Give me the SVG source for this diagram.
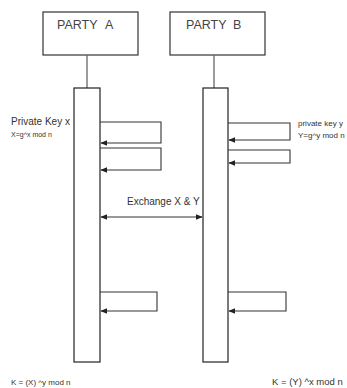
<svg xmlns="http://www.w3.org/2000/svg" width="347" height="388" viewBox="0 0 347 388">
  <defs>
    <marker id="ah" viewBox="0 0 10 10" refX="9" refY="5" markerWidth="7" markerHeight="7" markerUnits="userSpaceOnUse" orient="auto-start-reverse">
      <path d="M0,1 L10,5 L0,9 z" fill="#222"/>
    </marker>
    <style>
      .box { fill: #fff; stroke: #333; stroke-width: 1.2; }
      .life { fill: #fff; stroke: #222; stroke-width: 1.2; }
      .stem { stroke: #666; stroke-width: 1.3; fill: none; }
      .msg { fill: none; stroke: #333; stroke-width: 1.1; }
      .arr { marker-end: url(#ah); }
      .lbl { font-family: "Liberation Sans", Arial, sans-serif; fill: #333; }
      .title { font-size: 12.5px; fill: #444; }
    </style>
  </defs>
  <rect width="347" height="388" fill="#fff"/>

  <g id="party-a">
    <rect class="box" x="43" y="12" width="95" height="43"/>
    <text class="lbl title" x="57" y="29">PARTY<tspan x="105">A</tspan></text>
    <line class="stem" x1="87" y1="55" x2="87" y2="88"/>
    <rect class="life" x="74" y="88" width="26" height="274"/>
  </g>

  <g id="party-b">
    <rect class="box" x="170" y="12" width="95" height="43"/>
    <text class="lbl title" x="186" y="29">PARTY<tspan x="233">B</tspan></text>
    <line class="stem" x1="214" y1="55" x2="214" y2="88"/>
    <rect class="life" x="203" y="88" width="25" height="274"/>
  </g>

  <g id="connectors">
    <!-- Party A self messages -->
    <path class="msg arr" d="M100,122 H161 V143 H101"/>
    <path class="msg arr" d="M100,148 H161 V170 H101"/>
    <path class="msg arr" d="M100,292 H157 V311 H101"/>
    <!-- Party B self messages -->
    <path class="msg arr" d="M228,123 H290 V140 H229"/>
    <path class="msg arr" d="M228,150 H290 V163 H229"/>
    <path class="msg arr" d="M228,292 H286 V311 H229"/>
    <!-- key exchange -->
    <line class="msg" x1="101" y1="217" x2="202" y2="217" marker-start="url(#ah)" marker-end="url(#ah)"/>
  </g>

  <g id="labels">
    <text class="lbl" x="11" y="125" font-size="10">Private Key x</text>
    <text class="lbl" x="11" y="137" font-size="7">X=g^x mod n</text>
    <text class="lbl" x="298" y="126" font-size="8">private key y</text>
    <text class="lbl" x="298" y="138" font-size="8">Y=g^y mod n</text>
    <text class="lbl" x="127" y="205" font-size="10">Exchange X &amp; Y</text>
    <text class="lbl" x="11" y="385" font-size="8">K = (X) ^y mod n</text>
    <text class="lbl" x="272" y="385" font-size="9.5">K = (Y) ^x mod n</text>
  </g>
</svg>
